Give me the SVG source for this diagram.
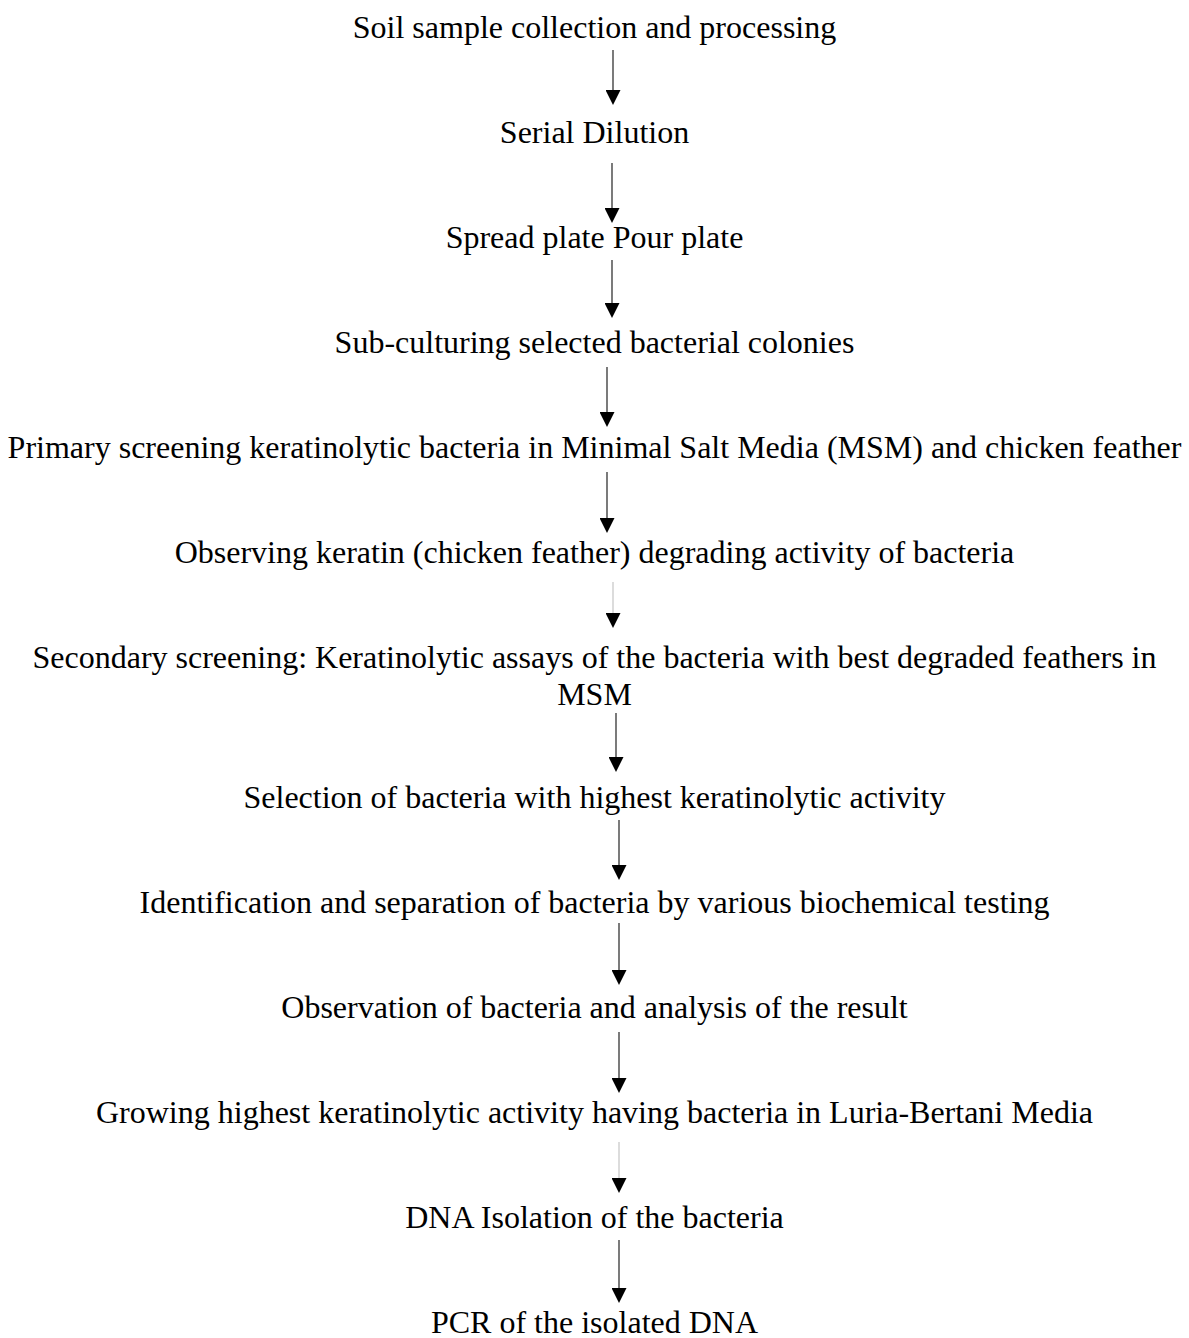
<svg xmlns="http://www.w3.org/2000/svg" width="1189" height="1338" viewBox="0 0 1189 1338">
<style>
.t{font-family:"Liberation Serif","Times New Roman",serif;font-size:32px;fill:#000;text-anchor:middle}
.c{stroke:#222;stroke-width:1.2;fill:none}
.g{stroke:#d4d4d4;stroke-width:1.6;fill:none}
</style>
<defs>
<marker id="ah" viewBox="0 0 15 15" refX="0" refY="7.5" markerWidth="15" markerHeight="15" markerUnits="userSpaceOnUse" orient="auto">
<path d="M0,0 L15,7.5 L0,15 z" fill="#000"/>
</marker>
</defs>
<rect width="1189" height="1338" fill="#fff"/>
<g id="connectors">
<line class="c" x1="613" y1="50" x2="613" y2="90" marker-end="url(#ah)"/>
<line class="c" x1="612" y1="163" x2="612" y2="208" marker-end="url(#ah)"/>
<line class="c" x1="612" y1="260" x2="612" y2="303" marker-end="url(#ah)"/>
<line class="c" x1="607" y1="367" x2="607" y2="412" marker-end="url(#ah)"/>
<line class="c" x1="607" y1="472" x2="607" y2="518" marker-end="url(#ah)"/>
<line class="g" x1="613" y1="582" x2="613" y2="613" marker-end="url(#ah)"/>
<line class="c" x1="616" y1="713" x2="616" y2="757" marker-end="url(#ah)"/>
<line class="c" x1="619" y1="820" x2="619" y2="865" marker-end="url(#ah)"/>
<line class="c" x1="619" y1="923" x2="619" y2="970" marker-end="url(#ah)"/>
<line class="c" x1="619" y1="1032" x2="619" y2="1078" marker-end="url(#ah)"/>
<line class="g" x1="619" y1="1142" x2="619" y2="1178" marker-end="url(#ah)"/>
<line class="c" x1="619" y1="1240" x2="619" y2="1288" marker-end="url(#ah)"/>
</g>
<g id="n1"><text class="t" x="594.5" y="38">Soil sample collection and processing</text></g>
<g id="n2"><text class="t" x="594.5" y="143">Serial Dilution</text></g>
<g id="n3"><text class="t" x="594.5" y="248">Spread plate Pour plate</text></g>
<g id="n4"><text class="t" x="594.5" y="353">Sub-culturing selected bacterial colonies</text></g>
<g id="n5"><text class="t" x="594.5" y="458">Primary screening keratinolytic bacteria in Minimal Salt Media (MSM) and chicken feather</text></g>
<g id="n6"><text class="t" x="594.5" y="563">Observing keratin (chicken feather) degrading activity of bacteria</text></g>
<g id="n7"><text class="t" x="594.5" y="668">Secondary screening: Keratinolytic assays of the bacteria with best degraded feathers in</text><text class="t" x="594.5" y="705">MSM</text></g>
<g id="n8"><text class="t" x="594.5" y="808">Selection of bacteria with highest keratinolytic activity</text></g>
<g id="n9"><text class="t" x="594.5" y="913">Identification and separation of bacteria by various biochemical testing</text></g>
<g id="n10"><text class="t" x="594.5" y="1018">Observation of bacteria and analysis of the result</text></g>
<g id="n11"><text class="t" x="594.5" y="1123">Growing highest keratinolytic activity having bacteria in Luria-Bertani Media</text></g>
<g id="n12"><text class="t" x="594.5" y="1228">DNA Isolation of the bacteria</text></g>
<g id="n13"><text class="t" x="594.5" y="1333">PCR of the isolated DNA</text></g>
</svg>
